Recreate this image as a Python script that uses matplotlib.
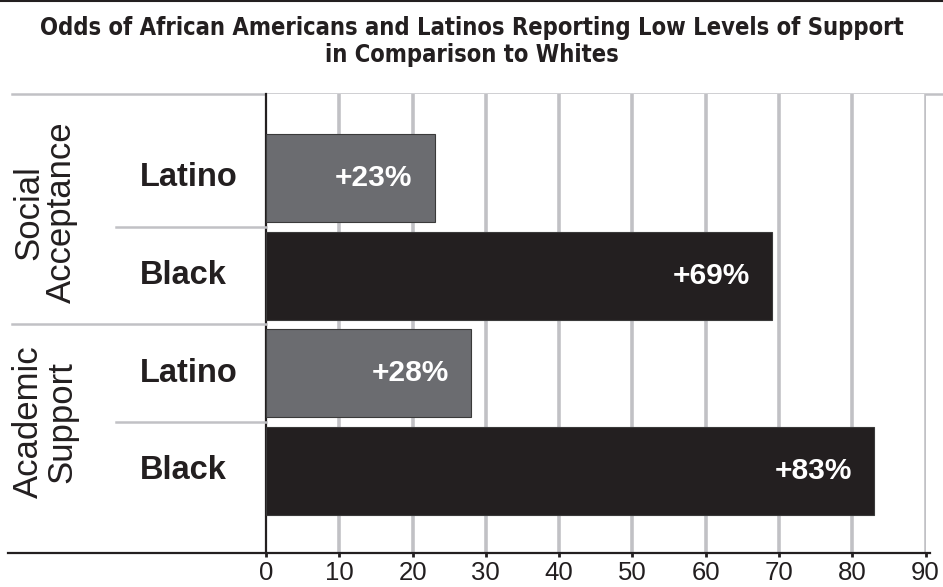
import matplotlib
matplotlib.use("Agg")
import matplotlib.pyplot as plt
from matplotlib.lines import Line2D

title_lines = ["Odds of African Americans and Latinos Reporting Low Levels of Support",
               "in Comparison to Whites"]
groups = ["Social\nAcceptance", "Academic\nSupport"]
bar_labels = ["Latino", "Black", "Latino", "Black"]
values = [23, 69, 28, 83]
value_texts = ["+23%", "+69%", "+28%", "+83%"]
xticks = [0, 10, 20, 30, 40, 50, 60, 70, 80, 90]

LATINO = "#6b6c70"
BLACK = "#231f20"
GRID = "#c1c1c5"

W, H = 943, 587
fig = plt.figure(figsize=(W / 100, H / 100), dpi=100)
plt.rcParams['font.family'] = ['Liberation Sans', 'DejaVu Sans']

def fx(px):
    return px / W

def fy(py):
    return 1 - py / H

left, right, top, bottom = 266, 925.6, 94, 553
ax = fig.add_axes([fx(left), fy(bottom), fx(right) - fx(left), fy(top) - fy(bottom)])
ax.set_xlim(0, 90)
ax.set_ylim(3.84, -0.86)

colors = [LATINO, BLACK, LATINO, BLACK]
ypos = list(range(len(values)))
ax.barh(ypos, values, height=0.9, color=colors, edgecolor="#3a3a3a", linewidth=0.8, zorder=3)

for x in xticks[1:]:
    ax.axvline(x, color=GRID, lw=2.6, zorder=1)

for y, v, t in zip(ypos, values, value_texts):
    ax.text(v - 3.0, y, t, ha="right", va="center", color="white",
            fontsize=21.5, fontweight="bold", zorder=4)

for s in ["top", "right", "bottom"]:
    ax.spines[s].set_visible(False)
ax.spines["left"].set_linewidth(1.6)
ax.spines["left"].set_color("#231f20")
ax.set_yticks([])
ax.set_xticks(xticks)
ax.tick_params(axis="x", length=3, width=2, color="#231f20", labelsize=18.5, pad=3,
               labelcolor="#231f20")
ax.set_xticklabels([str(x) for x in xticks])
ax.xaxis.set_ticks_position("bottom")

# bottom axis line extending to left
fig.add_artist(Line2D([fx(8), fx(930)], [fy(553), fy(553)], color="#231f20", lw=1.6))
# top border line
fig.add_artist(Line2D([0, 1], [fy(0.5), fy(0.5)], color="#231f20", lw=1.5))
# top gray line
fig.add_artist(Line2D([fx(12), fx(943)], [fy(94), fy(94)], color=GRID, lw=1.8, zorder=0))
# separators
for y, x0 in [(0.5, 116), (1.5, 12), (2.5, 116)]:
    yy = ax.transData.transform((0, y))[1] / fig.dpi / (H / 100)
    fig.add_artist(Line2D([fx(x0), fx(left)], [yy, yy], color=GRID, lw=1.8))

# category labels
for y, lab in zip(ypos, bar_labels):
    yy = ax.transData.transform((0, y))[1] / fig.dpi / (H / 100)
    fig.text(fx(140), yy, lab, ha="left", va="center", fontsize=23.5,
             fontweight="bold", color="#231f20")

group_y = [0.35, 2.5]
for yc, g in zip(group_y, groups):
    yy = ax.transData.transform((0, yc))[1] / fig.dpi / (H / 100)
    fig.text(fx(45), yy, g, ha="center", va="center", rotation=90, fontsize=25,
             color="#231f20", linespacing=1.0, multialignment="center")

for t, ty in zip(title_lines, [28, 55]):
    fig.text(0.5, fy(ty), t, ha="center", va="center", fontsize=17,
             fontweight="bold", fontstretch="condensed", color="#231f20",
             family=["DejaVu Sans", "Liberation Sans"])

fig.savefig("out.png", dpi=100)
